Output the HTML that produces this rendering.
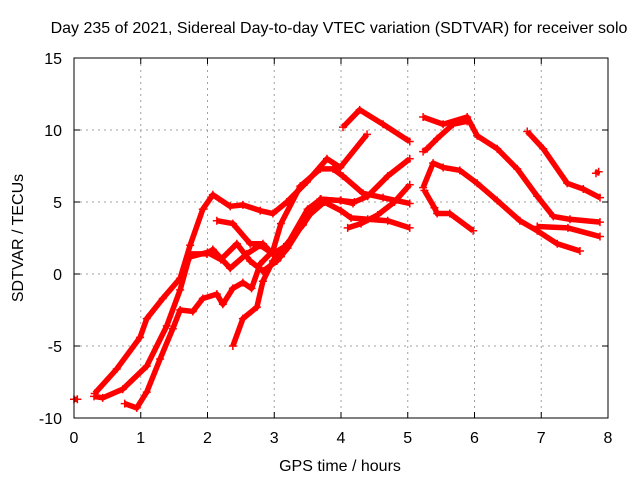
<!DOCTYPE html>
<html><head><meta charset="utf-8"><style>
body{margin:0;background:#fff}
svg text{font-family:"Liberation Sans",sans-serif;font-size:16px;fill:#000}
</style></head><body>
<svg id="chart" width="640" height="480" viewBox="0 0 640 480">
<text x="339" y="33" text-anchor="middle">Day 235 of 2021, Sidereal Day-to-day VTEC variation (SDTVAR) for receiver solo</text>
<text x="340" y="471" text-anchor="middle">GPS time / hours</text>
<text transform="translate(23,238) rotate(-90)" text-anchor="middle">SDTVAR / TECUs</text>
<g id="grid"></g>
<g id="ticks"></g>
<g id="series"></g>
<rect x="74" y="58" width="534" height="360" fill="none" stroke="#000" stroke-width="1"/>
</svg>
<script>
const xTicks=[0,1,2,3,4,5,6,7,8];
const yTicks=[-10,-5,0,5,10,15];
const trackEdge=[[0.0,-8.7],[0.05,-8.7]];
const trackL1=[[0.31,-8.3],[0.64,-6.6],[0.99,-4.4],[1.09,-3.1],[1.33,-1.7],[1.59,-0.3],[1.74,2.0],[1.93,4.5],[2.08,5.5],[2.34,4.7],[2.53,4.8],[2.79,4.4],[2.98,4.2],[3.19,5.0],[3.49,6.4],[3.79,8.0],[3.99,7.4],[4.39,9.7]];
const trackL2=[[0.3,-8.5],[0.43,-8.6],[0.73,-8.0],[1.09,-6.4],[1.39,-3.6],[1.59,-1.1],[1.74,1.4],[1.99,1.4],[2.08,1.7],[2.34,0.4],[2.59,1.4],[2.79,2.0],[2.98,1.4],[3.19,2.0],[3.5,4.5],[3.7,5.2],[4.0,5.1],[4.2,5.0],[4.4,5.4],[4.7,6.8],[5.03,8.0]];
const trackL3=[[1.75,1.2],[2.0,1.5],[2.2,1.0],[2.44,2.1],[2.64,0.9],[2.83,0.2],[3.04,0.9],[3.2,1.8],[3.5,4.0],[3.75,5.0],[4.0,4.4],[4.15,3.9],[4.4,3.8],[4.7,3.7],[5.03,3.2]];
const trackL4=[[0.76,-9.0],[0.94,-9.3],[1.09,-8.2],[1.29,-5.9],[1.48,-3.8],[1.59,-2.5],[1.78,-2.6],[1.93,-1.7],[2.14,-1.4],[2.23,-2.1],[2.38,-1.0],[2.53,-0.6],[2.66,-1.0],[2.79,0.7],[2.98,1.6],[3.1,3.5],[3.39,6.1],[3.69,7.3],[3.88,7.3],[4.03,6.8],[4.33,5.6],[4.63,5.3],[5.03,4.9]];
const trackL5=[[2.38,-5.0],[2.53,-3.1],[2.74,-2.3],[2.83,-0.5],[2.98,0.9],[3.19,2.1],[3.43,3.4],[3.69,5.2],[3.99,5.1],[4.18,4.9]];
const trackL6=[[2.14,3.7],[2.38,3.5],[2.64,2.1],[2.83,2.1],[3.04,1.1],[3.1,1.2]];
const trackE=[[4.1,3.2],[4.3,3.5],[4.55,4.1],[4.8,5.0],[5.03,6.2]];
const trackTop=[[4.03,10.2],[4.28,11.4],[4.63,10.4],[5.03,9.2]];
const trackR1=[[5.23,10.9],[5.53,10.4],[5.89,10.9],[6.04,9.6],[6.34,8.7],[6.64,7.3],[6.94,5.4],[7.18,4.0],[7.43,3.8],[7.88,3.6]];
const trackR2=[[5.23,8.5],[5.29,8.7],[5.44,9.4],[5.68,10.4],[5.89,10.6]];
const trackR3=[[5.23,6.0],[5.38,7.7],[5.53,7.4],[5.78,7.2],[6.04,6.3],[6.34,5.1],[6.68,3.7],[6.94,3.0],[7.24,2.1],[7.58,1.6]];
const trackR3b=[[6.94,3.3],[7.4,3.2],[7.88,2.6]];
const trackR4=[[5.25,5.8],[5.4,4.6],[5.44,4.2],[5.63,4.2],[5.98,3.0]];
const trackR5=[[6.79,9.9],[7.03,8.7],[7.39,6.3],[7.63,5.9],[7.88,5.3]];
const trackDot=[[7.82,7.0],[7.86,7.1]];
const tracks=[trackEdge,trackL1,trackL2,trackL3,trackL4,trackL5,trackL6,trackE,trackTop,trackR1,trackR2,trackR3,trackR3b,trackR4,trackR5,trackDot];
const NS='http://www.w3.org/2000/svg';
const X0=74,X1=608,Y0=418,Y1=58;
function sx(v){return X0+(v-0)/(8-0)*(X1-X0);}
function sy(v){return Y0-(v+10)/(15+10)*(Y0-Y1);}
function mk(t,a,p){const e=document.createElementNS(NS,t);for(const k in a)e.setAttribute(k,a[k]);p.appendChild(e);return e;}
const grid=document.getElementById('grid'),ticks=document.getElementById('ticks'),ser=document.getElementById('series');
xTicks.forEach(t=>{const x=sx(t);
 if(t>0&&t<8){const l=mk('line',{x1:x,y1:Y1,x2:x,y2:Y0,stroke:'#a0a0a0','stroke-dasharray':'2,4'},grid);}
 mk('line',{x1:x,y1:Y0,x2:x,y2:Y0-6,stroke:'#000'},ticks);mk('line',{x1:x,y1:Y1,x2:x,y2:Y1+6,stroke:'#000'},ticks);
 const tx=mk('text',{x:x,y:Y0+25,'text-anchor':'middle'},ticks);tx.textContent=t;
 });
yTicks.forEach(t=>{const y=sy(t);
 if(t>-10&&t<15){const l=mk('line',{x1:X0,y1:y,x2:X1,y2:y,stroke:'#a0a0a0','stroke-dasharray':'2,4'},grid);}
 mk('line',{x1:X0,y1:y,x2:X0+6,y2:y,stroke:'#000'},ticks);mk('line',{x1:X1,y1:y,x2:X1-6,y2:y,stroke:'#000'},ticks);
 const tx=mk('text',{x:X0-12,y:y+6,'text-anchor':'end'},ticks);tx.textContent=t;
 });
tracks.forEach((tr,i)=>{
 const pl=mk('polyline',{points:tr.map(p=>sx(p[0])+','+sy(p[1])).join(' '),fill:'none',stroke:'#ff0000','stroke-width':5.5,'stroke-linejoin':'round','stroke-linecap':'butt'},ser);
 
 
 tr.forEach(p=>{const x=sx(p[0]),y=sy(p[1]);
  const m=mk('path',{d:`M${x-4},${y}h8M${x},${y-4}v8`,stroke:'#ff0000','stroke-width':1.5},ser);
  
  });
});
</script>
</body></html>
